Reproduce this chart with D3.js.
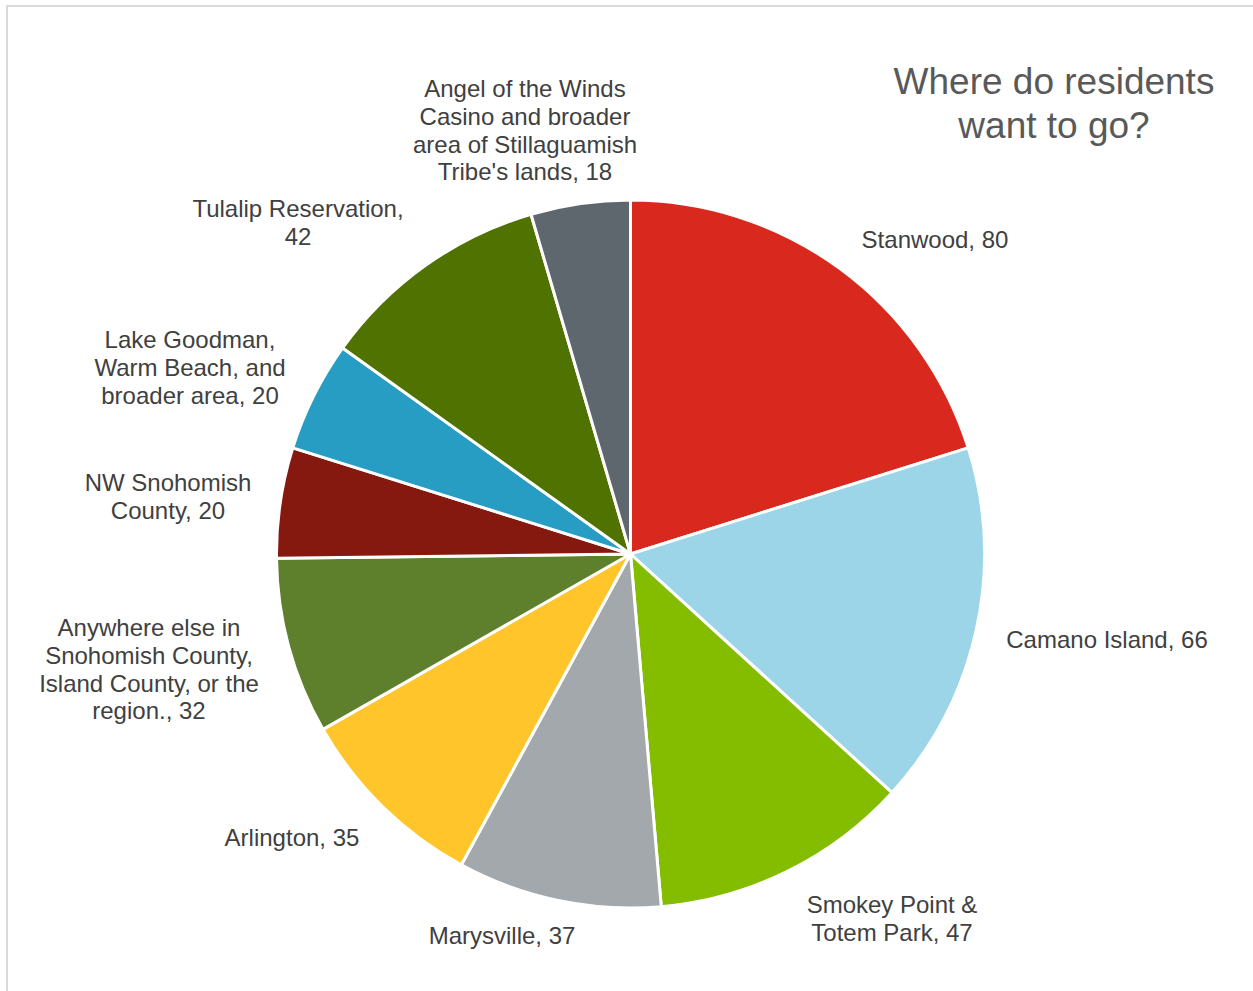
<!DOCTYPE html>
<html>
<head>
<meta charset="utf-8">
<script src="https://cdn.jsdelivr.net/npm/d3@7"></script>
<style>
  body { margin: 0; background: #fff; }
  text { font-family: "Liberation Sans", Arial, sans-serif; }
</style>
</head>
<body>
<div id="chart"></div>
<script>
var width = 1253,
    height = 991

// data, clockwise from 12 o'clock
var places = ['Stanwood', 'Camano Island', 'Smokey Point & Totem Park', 'Marysville', 'Arlington',
  'Anywhere else in Snohomish County, Island County, or the region.', 'NW Snohomish County',
  'Lake Goodman, Warm Beach, and broader area', 'Tulalip Reservation',
  "Angel of the Winds Casino and broader area of Stillaguamish Tribe's lands"]
var counts = [80, 66, 47, 37, 35, 32, 20, 20, 42, 18]
// how each label wraps (same order as places)
var labelLines = [
  ['Stanwood, 80'],
  ['Camano Island, 66'],
  ['Smokey Point &', 'Totem Park, 47'],
  ['Marysville, 37'],
  ['Arlington, 35'],
  ['Anywhere else in', 'Snohomish County,', 'Island County, or the', 'region., 32'],
  ['NW Snohomish', 'County, 20'],
  ['Lake Goodman,', 'Warm Beach, and', 'broader area, 20'],
  ['Tulalip Reservation,', '42'],
  ['Angel of the Winds', 'Casino and broader', 'area of Stillaguamish', "Tribe's lands, 18"]
]
var colors = ['#d9291f', '#9dd5e8', '#84bc00', '#a2a8ab', '#ffc52a',
  '#5e7f2c', '#85180f', '#279dc3', '#4f7200', '#5e666e']

// label anchor (centre of first line), placed like the Excel "best fit" layout
var labelAt = [[935, 240], [1107, 640], [892, 905], [502, 936], [292, 838],
  [149, 628], [168, 483], [190, 340], [298, 209], [525, 89]]

var cx = 630.5, cy = 554, r = 354

var svg = d3.select('#chart')
  .append('svg')
  .attr('width', width)
  .attr('height', height)

// chart area border
svg.append('rect')
  .attr('x', 7).attr('y', 6)
  .attr('width', width + 10).attr('height', height + 10)
  .attr('fill', 'none')
  .attr('stroke', '#d9d9d9')
  .attr('stroke-width', 2)

var pie = d3.pie().sort(null).value(function(d){ return d })
var arc = d3.arc().innerRadius(0).outerRadius(r)

var g = svg.append('g').attr('transform', 'translate(' + cx + ',' + cy + ')')

g.selectAll('path')
  .data(pie(counts))
  .enter().append('path')
  .attr('d', arc)
  .attr('fill', function(d, i){ return colors[i] })
  .attr('stroke', '#fff')
  .attr('stroke-width', 3)
  .attr('stroke-linejoin', 'round')

var labels = svg.selectAll('text.lbl')
  .data(labelLines)
  .enter().append('text')
  .attr('class', 'lbl')
  .attr('text-anchor', 'middle')
  .attr('font-size', 24)
  .attr('fill', '#404040')
  .attr('x', function(d, i){ return labelAt[i][0] })
  .attr('y', function(d, i){ return labelAt[i][1] })

labels.selectAll('tspan')
  .data(function(d, i){ return d.map(function(s){ return {s: s, x: labelAt[i][0]} }) })
  .enter().append('tspan')
  .attr('x', function(d){ return d.x })
  .attr('dy', function(d, j){ return j == 0 ? '0.35em' : 27.6 })
  .text(function(d){ return d.s })

// title
var title = svg.append('text')
  .attr('text-anchor', 'middle')
  .attr('font-size', 37)
  .attr('fill', '#595959')
  .attr('x', 1054).attr('y', 81)
title.append('tspan').attr('x', 1054).attr('dy', '0.35em').text('Where do residents')
title.append('tspan').attr('x', 1054).attr('dy', 44).text('want to go?')
</script>
</body>
</html>
